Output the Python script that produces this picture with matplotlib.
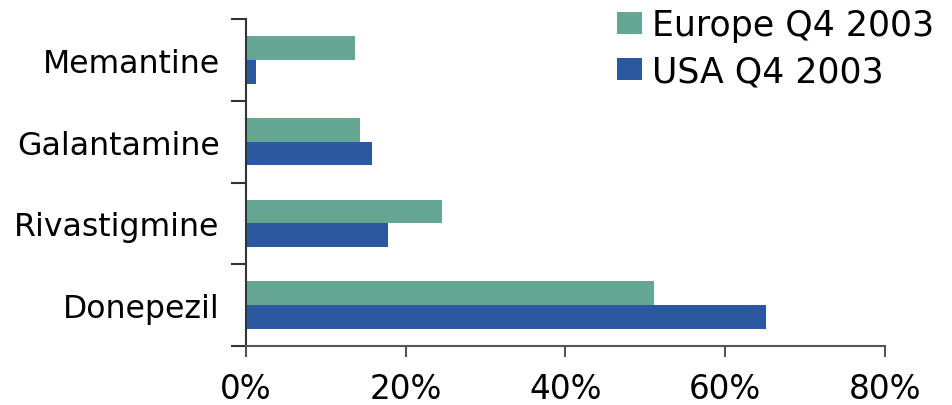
import matplotlib
matplotlib.use("Agg")
import matplotlib.pyplot as plt
from matplotlib.ticker import FuncFormatter
import numpy as np

categories = ["Donepezil", "Rivastigmine", "Galantamine", "Memantine"]
europe = [51.1, 24.5, 14.3, 13.6]
usa = [65.1, 17.8, 15.8, 1.3]
series_labels = ["Europe Q4 2003", "USA Q4 2003"]
xticks = [0, 20, 40, 60, 80]

plt.rcParams['font.family'] = ['DejaVu Sans']
fig = plt.figure(figsize=(9.52, 4.06), dpi=100)
ax = fig.add_axes([0.2584, 0.1453, 0.6712, 0.8054])

y = np.arange(len(categories))
h = 0.29
ax.barh(y + h / 2, europe, height=h, color='#65A594', label=series_labels[0])
ax.barh(y - h / 2, usa, height=h, color='#2C58A0', label=series_labels[1])

ax.set_xlim(0, 80)
ax.set_ylim(-0.5, 3.5)
ax.set_xticks(xticks)
ax.xaxis.set_major_formatter(FuncFormatter(lambda v, p: f"{v:.0f}%"))
ax.set_yticks(np.arange(-0.5, 3.6, 1.0), minor=False)
ax.set_yticklabels([])
ax.set_yticks(y, minor=True)
ax.set_yticklabels(categories, minor=True)
ax.tick_params(axis='y', which='minor', length=0, pad=19, labelsize=22.7)
ax.tick_params(axis='y', which='major', length=11, width=1.5, color='#333333')
ax.tick_params(axis='x', length=8, width=1.5, color='#555555', labelsize=23.5, pad=10.5)

for s in ['top', 'right']:
    ax.spines[s].set_visible(False)
ax.spines['left'].set_color('#333333')
ax.spines['left'].set_linewidth(1.5)
ax.spines['bottom'].set_color('#555555')
ax.spines['bottom'].set_linewidth(1.5)

leg = fig.legend(loc='upper left', bbox_to_anchor=(610 / 952, 1 - 2 / 406),
                 frameon=False, fontsize=25, handlelength=0.72, handleheight=0.6,
                 handletextpad=0.3, labelspacing=0.36, borderaxespad=0, borderpad=0.2)

fig.savefig("out.png", dpi=100)
